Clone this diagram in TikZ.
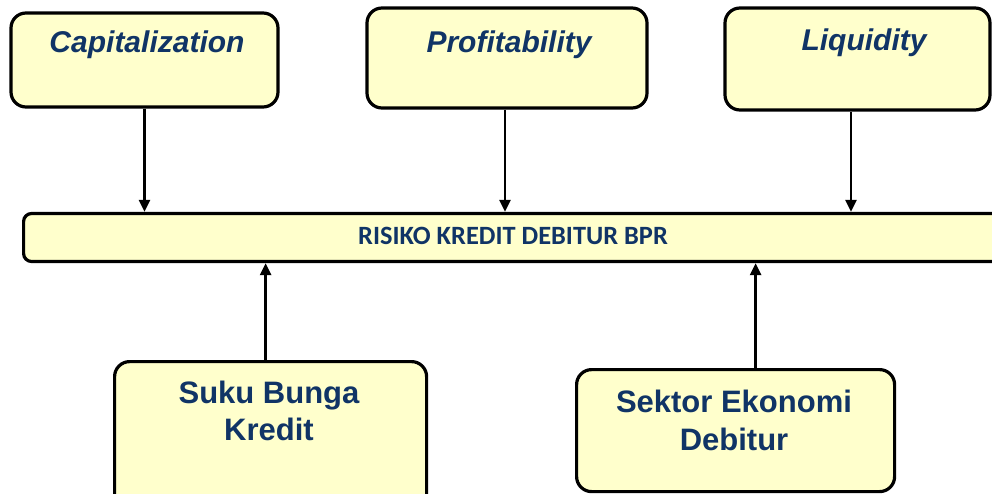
\documentclass[tikz,border=0pt]{standalone}
\usepackage{fontspec}
\setmainfont{Liberation Sans}
\newfontfamily\barfont{Carlito}
\usetikzlibrary{arrows.meta}
\definecolor{boxfill}{RGB}{255,255,204}
\definecolor{navy}{RGB}{16,52,102}
\tikzset{
  box/.style={draw=black, line width=3.2pt, fill=boxfill, rounded corners=15pt, inner sep=0pt},
  barbox/.style={draw=black, line width=3.2pt, fill=boxfill, rounded corners=8pt, inner sep=0pt},
  toptext/.style={text=navy, font=\fontsize{30}{36}\selectfont\bfseries\itshape, anchor=base, inner sep=0pt},
  bottext/.style={text=navy, font=\fontsize{31}{37}\selectfont\bfseries, anchor=base, inner sep=0pt, align=center},
  bartext/.style={text=navy, font=\fontsize{26.4}{30}\selectfont\barfont\bfseries, anchor=base, inner sep=0pt},
  conn/.style={line width=2.6pt, -{Triangle[width=11pt,length=12pt]}}
}
\begin{document}
\begin{tikzpicture}[x=1pt,y=-1pt]
\useasboundingbox (0,0) rectangle (992,493);
\clip (0,0) rectangle (992,493);
% boxes
\node[box, minimum width=267pt, minimum height=94pt] (cap) at (144.5,60) {};
\node[box, minimum width=280pt, minimum height=100pt] (prof) at (507,58) {};
\node[box, minimum width=265pt, minimum height=102pt] (liq) at (857.5,59) {};
\node[barbox, minimum width=1000pt, minimum height=48pt, anchor=west] (bar) at (22,237.5) {};
\node[box, minimum width=312pt, minimum height=160pt, anchor=north west] (suku) at (113,360) {};
\node[box, minimum width=318pt, minimum height=122pt, anchor=north west] (sektor) at (575,368) {};
% texts
\node[toptext] (capt) at (147,52) {Capitalization};
\node[toptext] (proft) at (509,52) {Profitability};
\node[toptext] (liqt) at (864,50) {Liquidity};
\node[bartext] (bart) at (513,244) {RISIKO KREDIT DEBITUR BPR};
\node[bottext, anchor=base] (sukut1) at (269,403) {Suku Bunga};
\node[bottext, anchor=base] (sukut2) at (269,440) {Kredit};
\node[bottext, anchor=base] (sektort1) at (734,412) {Sektor Ekonomi};
\node[bottext, anchor=base] (sektort2) at (734,450) {Debitur};
% connectors
\draw[conn] (cap.south) -- (cap.south |- bar.north);
\draw[conn] ([xshift=-2pt]prof.south) -- ([xshift=-2pt]prof.south |- bar.north);
\draw[conn] ([xshift=-6.5pt]liq.south) -- ([xshift=-6.5pt]liq.south |- bar.north);
\draw[conn] ([xshift=-5pt]suku.north) -- ([xshift=-5pt]suku.north |- bar.south);
\draw[conn] ([xshift=20pt]sektor.north) -- ([xshift=20pt]sektor.north |- bar.south);
\end{tikzpicture}
\end{document}
